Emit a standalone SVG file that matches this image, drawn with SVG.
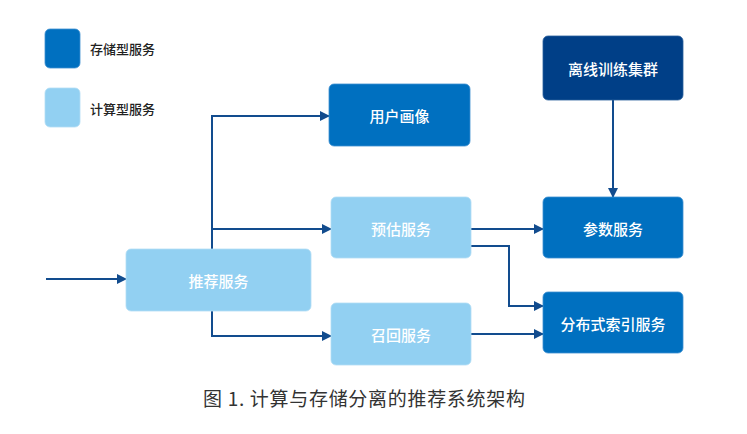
<svg xmlns="http://www.w3.org/2000/svg" width="747" height="434" viewBox="0 0 747 434">
<defs>
<style>
.st{fill:#0070C0;stroke:#3d8fd0;stroke-width:0.8}
.cp{fill:#92D0F2;stroke:#b3ddf5;stroke-width:0.8}
.dk{fill:#003F87;stroke:#2a5f9c;stroke-width:0.8}
.nt{font-family:"Noto Sans CJK SC","Noto Sans",sans-serif;font-size:15px;font-weight:500;fill:#ffffff;text-anchor:middle;dominant-baseline:central}
.lt{font-family:"Noto Sans CJK SC","Noto Sans",sans-serif;font-size:13px;font-weight:500;fill:#222222;dominant-baseline:central}
.cn{fill:none;stroke:#124C8E;stroke-width:2}
</style>
<marker id="ah" markerWidth="10" markerHeight="10" refX="9" refY="5" orient="auto" markerUnits="userSpaceOnUse">
<path d="M0,0 L10,5 L0,10 Z" fill="#124C8E"/>
</marker>
</defs>
<rect width="747" height="434" fill="#ffffff"/>
<g id="legend">
<rect x="45" y="29" width="35" height="39" rx="5" class="st"/>
<text x="90" y="48" class="lt">存储型服务</text>
<rect x="45" y="88" width="35" height="39" rx="5" class="cp"/>
<text x="90" y="108" class="lt">计算型服务</text>
</g>
<g id="connectors">
<line x1="46" y1="279" x2="126" y2="279" class="cn" marker-end="url(#ah)"/>
<polyline points="212,249 212,116 329,116" class="cn" marker-end="url(#ah)"/>
<line x1="212" y1="229" x2="331" y2="229" class="cn" marker-end="url(#ah)"/>
<polyline points="212,311 212,336 331,336" class="cn" marker-end="url(#ah)"/>
<line x1="471" y1="229" x2="543" y2="229" class="cn" marker-end="url(#ah)"/>
<polyline points="471,246 509,246 509,306 543,306" class="cn" marker-end="url(#ah)"/>
<line x1="471" y1="334" x2="543" y2="334" class="cn" marker-end="url(#ah)"/>
<line x1="613" y1="100" x2="613" y2="197" class="cn" marker-end="url(#ah)"/>
</g>
<g id="n-tuijian">
<rect x="126" y="249" width="185" height="62" rx="5" class="cp"/>
<text x="218.5" y="280" class="nt">推荐服务</text>
</g>
<g id="n-yonghu">
<rect x="329" y="84" width="141" height="62" rx="5" class="st"/>
<text x="399.5" y="115" class="nt">用户画像</text>
</g>
<g id="n-yugu">
<rect x="331" y="197" width="140" height="61" rx="5" class="cp"/>
<text x="401" y="228" class="nt">预估服务</text>
</g>
<g id="n-zhaohui">
<rect x="331" y="303" width="140" height="62" rx="5" class="cp"/>
<text x="401" y="334" class="nt">召回服务</text>
</g>
<g id="n-lixian">
<rect x="543" y="36" width="140" height="64" rx="5" class="dk"/>
<text x="613" y="68" class="nt">离线训练集群</text>
</g>
<g id="n-canshu">
<rect x="543" y="197" width="140" height="61" rx="5" class="st"/>
<text x="613" y="228" class="nt">参数服务</text>
</g>
<g id="n-suoyin">
<rect x="543" y="292" width="140" height="61" rx="5" class="st"/>
<text x="613" y="323" class="nt">分布式索引服务</text>
</g>
<text x="203" y="397" font-family="Noto Sans CJK SC,Noto Sans,sans-serif" font-size="19" letter-spacing="0.7" fill="#333333" dominant-baseline="central">图 1. 计算与存储分离的推荐系统架构</text>
</svg>
